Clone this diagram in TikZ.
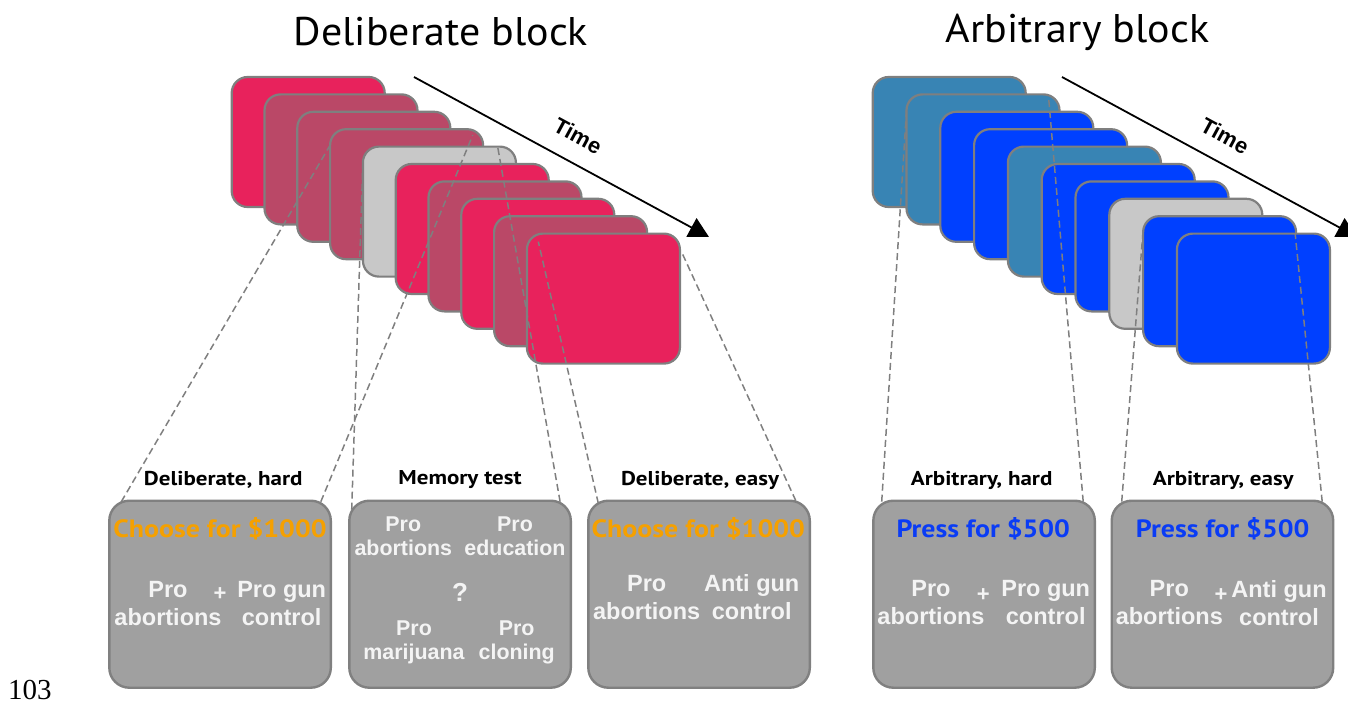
\documentclass[tikz,border=0pt]{standalone}
\usepackage{fontspec}
\setmainfont{Liberation Serif}
\newfontfamily\myrttl[FakeStretch=1.05]{PT Sans}
\newfontfamily\myrlbl[FakeStretch=1.15]{PT Sans}
\newfontfamily\myrhdr[FakeStretch=1.115]{PT Sans}
\newfontfamily\arl{Liberation Sans}
\usetikzlibrary{calc,arrows.meta}
\definecolor{crim}{HTML}{E8225C}
\definecolor{muted}{HTML}{BA4867}
\definecolor{grayc}{HTML}{C8C8C8}
\definecolor{steel}{HTML}{3884B4}
\definecolor{blu}{HTML}{0040FF}
\definecolor{cardbd}{HTML}{7F7F7F}
\definecolor{boxfill}{HTML}{A0A0A0}
\definecolor{boxbd}{HTML}{808080}
\definecolor{orangec}{HTML}{F5A000}
\definecolor{pressblue}{HTML}{0A3CF5}
\definecolor{txtw}{HTML}{F4F4F4}
\begin{document}
\begin{tikzpicture}[x=1pt,y=-1pt,
  cardL/.style={rectangle,rounded corners=16pt,draw=cardbd,line width=2.2pt,
    minimum width=153pt,minimum height=130pt,anchor=north west,inner sep=0pt,outer sep=0pt},
  cardR/.style={cardL,minimum width=153pt},
  trialbox/.style={rectangle,rounded corners=20pt,draw=boxbd,fill=boxfill,line width=2.4pt,
    minimum width=221.5pt,minimum height=187pt,anchor=north west,inner sep=0pt,outer sep=0pt},
  conn/.style={draw=cardbd,line width=1.5pt,dash pattern=on 7pt off 4pt},
  timearrow/.style={draw=black,line width=1.8pt,-{Triangle[length=20pt,width=21pt]}},
  timelbl/.style={font=\arl\bfseries\fontsize{22}{26}\selectfont,inner sep=0pt},
  ttl/.style={font=\myrttl\fontsize{40}{46}\selectfont,inner sep=0pt},
  lbl/.style={font=\myrlbl\bfseries\fontsize{20}{23}\selectfont,inner sep=0pt},
  hdr/.style={font=\myrhdr\bfseries\fontsize{25}{30}\selectfont,inner sep=0pt},
  opt/.style={font=\arl\bfseries\fontsize{23.5}{28}\selectfont,text=txtw,align=center,inner sep=0pt},
  optm/.style={font=\arl\bfseries\fontsize{21.4}{24.5}\selectfont,text=txtw,align=center,inner sep=0pt},
  qmark/.style={font=\arl\bfseries\fontsize{26}{30}\selectfont,text=txtw,inner sep=0pt},
  plus/.style={font=\arl\bfseries\fontsize{22}{26}\selectfont,text=txtw,inner sep=0pt}
]
\useasboundingbox (0,0) rectangle (1348,706);

% titles
\node[ttl] (T1) at (441,32) {Deliberate block};
\node[ttl] (T2) at (1077.5,32) {Arbitrary block};

% left stack
\foreach \i/\c in {1/crim,2/muted,3/muted,4/muted,5/grayc,6/crim,7/muted,8/crim,9/muted,10/crim}
  \node[cardL,fill=\c] (L\i) at ({231.7+(\i-1)*32.8},{77+(\i-1)*17.4}) {};
% right stack
\foreach \i/\c in {1/steel,2/steel,3/blu,4/blu,5/steel,6/blu,7/blu,8/grayc,9/blu,10/blu}
  \node[cardR,fill=\c] (R\i) at ({872.7+(\i-1)*33.8},{77+(\i-1)*17.4}) {};

% time arrows
\coordinate (LTs) at (414,77);
\coordinate (LTe) at (709,237);
\draw[timearrow] (LTs) -- (LTe);
\node[timelbl,rotate=-28.5] (LT) at (578,136) {Time};
\coordinate (RTs) at (1062,77);
\coordinate (RTe) at (1357,237);
\draw[timearrow] (RTs) -- (RTe);
\node[timelbl,rotate=-28.5] (RT) at (1225,136) {Time};

% bottom boxes
\node[trialbox] (B1) at (109.3,500.7) {};
\node[trialbox] (B2) at (349.3,500.7) {};
\node[trialbox] (B3) at (588.3,500.7) {};
\node[trialbox] (B4) at (873.3,500.7) {};
\node[trialbox] (B5) at (1111.7,500.7) {};

% labels above boxes
\node[lbl] (H1) at (223.3,480) {Deliberate, hard};
\node[lbl] (H2) at (460,480) {Memory test};
\node[lbl] (H3) at (700,480) {Deliberate, easy};
\node[lbl] (H4) at (981.7,480) {Arbitrary, hard};
\node[lbl] (H5) at (1223.3,480) {Arbitrary, easy};

% box 1
\node[hdr,text=orangec] (B1t) at (220,529) {Choose for \$1000};
\node[opt] (B1a) at (168,604) {Pro\\abortions};
\node[plus] (B1p) at (220,594) {+};
\node[opt] (B1b) at (281.7,604) {Pro gun\\control};
% box 2
\node[optm] (B2a) at (403.3,536.3) {Pro\\abortions};
\node[optm] (B2b) at (515,536.3) {Pro\\education};
\node[qmark] (B2q) at (460,592) {?};
\node[optm] (B2c) at (414,642.5) {Pro\\marijuana};
\node[optm] (B2d) at (516.7,642.5) {Pro\\cloning};
% box 3
\node[hdr,text=orangec] (B3t) at (698.3,529) {Choose for \$1000};
\node[opt] (B3a) at (646.7,597.5) {Pro\\abortions};
\node[opt] (B3b) at (751.7,597.5) {Anti gun\\control};
% box 4
\node[hdr,text=pressblue] (B4t) at (983.3,529) {Press for \$500};
\node[opt] (B4a) at (931,603) {Pro\\abortions};
\node[plus] (B4p) at (983.3,595) {+};
\node[opt] (B4b) at (1045.7,603) {Pro gun\\control};
% box 5
\node[hdr,text=pressblue] (B5t) at (1222.7,529) {Press for \$500};
\node[opt] (B5a) at (1169.3,603) {Pro\\abortions};
\node[plus] (B5p) at (1221,595) {+};
\node[opt] (B5b) at (1279,603) {Anti gun\\control};

% dashed connectors
\draw[conn] ($(B1.north west)+(12,1)$) -- ($(L4.north west)+(0,16)$);
\draw[conn] ($(B1.north east)+(-10,1)$) -- ($(L4.north east)+(-10.4,6)$);
\draw[conn] ($(B2.north west)+(2.4,9)$) -- ($(L5.north west)+(0,14)$);
\draw[conn] ($(B2.north east)+(-10.7,1)$) -- ($(L5.north east)+(-18,1.5)$);
\draw[conn] ($(B3.north west)+(10,2.6)$) -- ($(L10.north west)+(11.4,8)$);
\draw[conn] ($(B3.north east)+(-14,0)$) -- ($(L10.north east)+(1.5,18)$);
\draw[conn] ($(B4.north west)+(8.4,1)$) -- ($(R2.north west)+(0,16)$);
\draw[conn] ($(B4.north east)+(-11.6,1)$) -- ($(R2.north east)+(-11,2)$);
\draw[conn] ($(B5.north west)+(10,1)$) -- ($(R9.north west)+(0,14)$);
\draw[conn] ($(B5.north east)+(-11,1)$) -- ($(R9.north east)+(-1,17)$);

% page number
\node[font=\fontsize{29}{33}\selectfont,inner sep=0pt] (PN) at (30,690) {103};
\end{tikzpicture}
\end{document}
